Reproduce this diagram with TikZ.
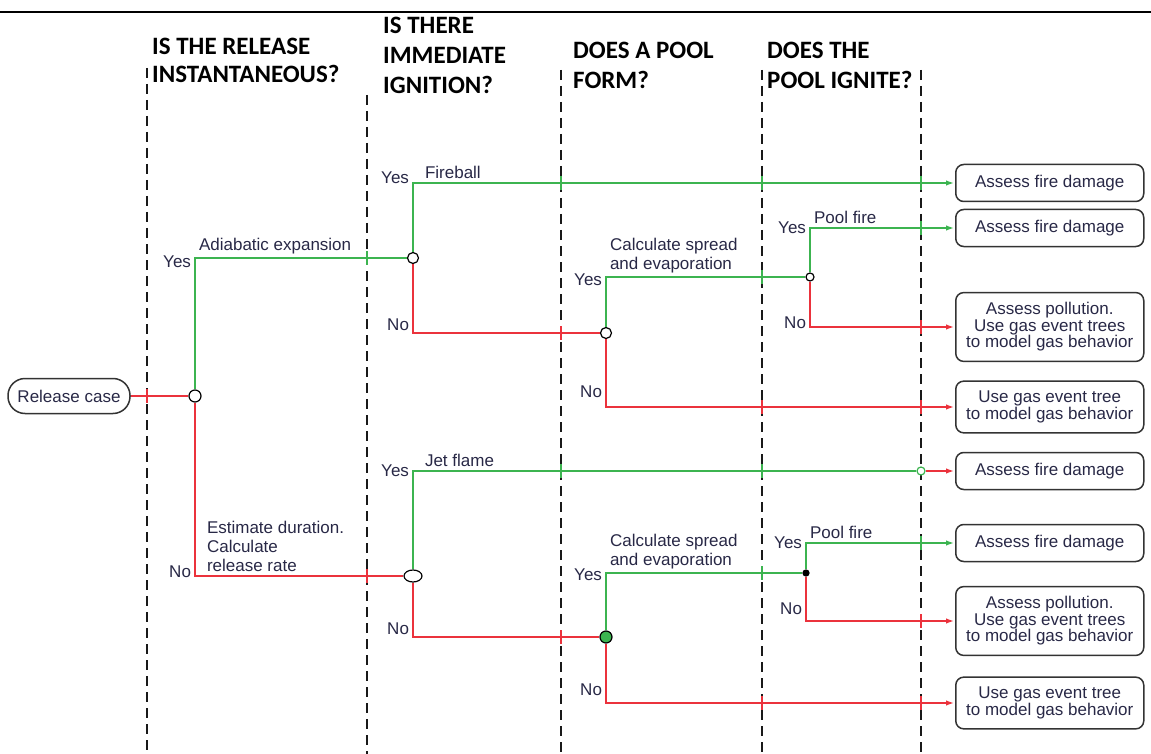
\documentclass[tikz,border=0pt]{standalone}
\usepackage{fontspec}
\setmainfont{Liberation Sans}
\newfontfamily\headfont{Carlito}
\usetikzlibrary{arrows.meta,shapes.geometric}
\definecolor{yesgreen}{RGB}{60,180,80}
\definecolor{nored}{RGB}{235,50,60}
\definecolor{labelink}{RGB}{40,40,70}

\begin{document}
\begin{tikzpicture}[x=1pt,y=-1pt,
  every node/.style={font=\fontsize{17}{16.5}\selectfont, text=labelink},
  head/.style={anchor=north west, align=left, inner sep=0pt, text=black,
    font=\headfont\bfseries\fontsize{25}{30}\selectfont},
  lane/.style={dash pattern=on 10pt off 6pt, line width=2pt, black!90},
  yes/.style={draw=yesgreen, line width=1.4pt},
  no/.style={draw=nored, line width=1.4pt},
  tip/.style={-{Latex[length=8pt,width=5.5pt]}, shorten >=1pt},
  junc/.style={circle, draw=black, fill=white, line width=1.2pt, inner sep=0pt, minimum size=11pt},
  outcome/.style={draw=black!80, line width=1.5pt, rounded corners=8pt, anchor=west,
    minimum width=188pt, minimum height=37pt, inner xsep=2pt, inner ysep=10pt, align=center},
  multi/.style={align=left, font=\fontsize{17}{19}\selectfont}]

\useasboundingbox (0,0) rectangle (1151,754);
\draw[line width=1.5pt] (0,12) -- (1151,12);

\node[head] at (152,38) {IS THE RELEASE\\[-2pt]INSTANTANEOUS?};
\node[head] at (383,17) {IS THERE\\IMMEDIATE\\IGNITION?};
\node[head] at (573,42) {DOES A POOL\\FORM?};
\node[head] at (767,42) {DOES THE\\POOL IGNITE?};

\foreach \x/\top in {147/68, 367/95, 561/70, 762/70, 921/70}
  \draw[lane] (\x,\top) -- (\x,754);

\foreach \x/\y in {367/258, 561/183, 762/183, 921/183, 762/277, 921/228,
    561/471, 762/471, 762/573, 921/543}
  \draw[yes] (\x,\y-7) -- (\x,\y+7);
\foreach \x/\y in {147/396, 561/333, 921/327, 762/407, 921/407, 367/576,
    561/637, 921/621, 762/703, 921/703}
  \draw[no] (\x,\y-7) -- (\x,\y+7);

\node[draw=black!80, line width=1.5pt, rounded corners=17pt, minimum width=122pt,
  minimum height=35pt, inner sep=2pt] (release) at (69,396) {Release case};

\node[junc, minimum size=12pt] (inst) at (195,396) {};
\node[junc] (ign1) at (413,258) {};
\node[junc, ellipse, minimum width=18pt, minimum height=12pt] (ign2) at (413,576) {};
\node[junc] (pool1) at (606,333) {};
\node[junc, fill=yesgreen, minimum size=12pt] (pool2) at (606,637) {};
\node[junc, minimum size=8pt] (pign1) at (810,277) {};
\node[junc, fill=black, minimum size=6pt] (pign2) at (806,573) {};
\node[junc, draw=yesgreen, minimum size=8pt] (jx) at (921,471) {};

\node[outcome] (fireball) at (955,183) {Assess fire damage};
\node[outcome] (poolfire1) at (955,228) {Assess fire damage};
\node[outcome] (pollute1) at (955,327) {Assess pollution.\\Use gas event trees\\to model gas behavior};
\node[outcome] (gastree1) at (955,407) {Use gas event tree\\to model gas behavior};
\node[outcome] (jetflame) at (955,471) {Assess fire damage};
\node[outcome] (poolfire2) at (955,543) {Assess fire damage};
\node[outcome] (pollute2) at (955,621) {Assess pollution.\\Use gas event trees\\to model gas behavior};
\node[outcome] (gastree2) at (955,703) {Use gas event tree\\to model gas behavior};

\draw[no] (release) -- (inst);
\draw[yes] (inst) |- node[left,yshift=-4pt]{Yes} node[above right]{Adiabatic expansion} (ign1);
\draw[no] (inst) |- node[left,yshift=4pt]{No}
  node[above right,multi,xshift=8pt]{Estimate duration.\\Calculate\\release rate} (ign2);

\draw[yes,tip] (ign1) |- node[left,yshift=5pt]{Yes} node[above right,xshift=8pt]{Fireball} (fireball);
\draw[no] (ign1) |- node[left,yshift=8pt]{No} (pool1);
\draw[yes] (pool1) |- node[left,yshift=-3pt]{Yes}
  node[above right,multi]{Calculate spread\\and evaporation} (pign1);
\draw[no,tip] (pool1) |- node[above left,yshift=5pt]{No} (gastree1);
\draw[yes,tip] (pign1) |- node[left]{Yes} node[above right]{Pool fire} (poolfire1);
\draw[no,tip] (pign1) |- node[left,yshift=4pt]{No} (pollute1);

\draw[yes] (ign2) |- node[left]{Yes} node[above right,xshift=8pt]{Jet flame} (jx);
\draw[no,tip] (jx) -- (jetflame);
\draw[no] (ign2) |- node[left,yshift=8pt]{No} (pool2);
\draw[yes] (pool2) |- node[left,yshift=-2pt]{Yes}
  node[above right,multi]{Calculate spread\\and evaporation} (pign2);
\draw[no,tip] (pool2) |- node[above left,yshift=3pt]{No} (gastree2);
\draw[yes,tip] (pign2) |- node[left]{Yes} node[above right]{Pool fire} (poolfire2);
\draw[no,tip] (pign2) |- node[left,yshift=12pt]{No} (pollute2);
\end{tikzpicture}
\end{document}
